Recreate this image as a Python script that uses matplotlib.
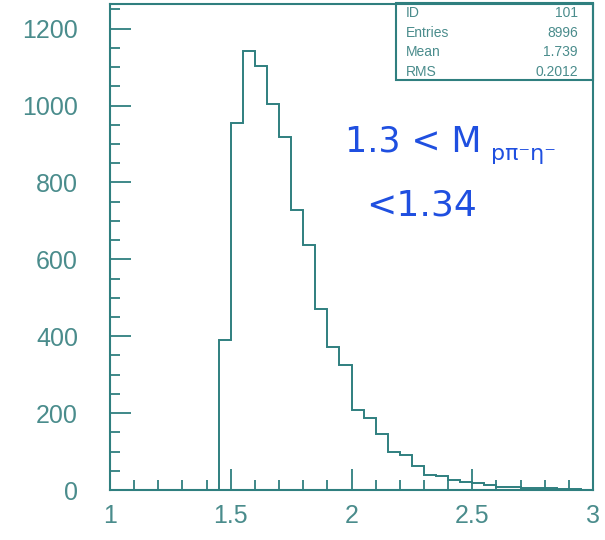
import matplotlib
matplotlib.use("Agg")
import matplotlib.pyplot as plt
import numpy as np
from matplotlib.patches import Rectangle
from matplotlib.ticker import MultipleLocator

# %% histogram contents (bins of 0.05 from 1.45 to 3.00)
bin_low = 1.45
bin_width = 0.05
counts = [389, 954, 1141, 1104, 1003, 919, 729, 637, 471, 372, 324,
          208, 188, 145, 100, 91, 63, 39, 37, 26, 22, 18, 14, 7, 8,
          5, 5, 4, 3, 2, 1]
edges = bin_low + bin_width * np.arange(len(counts) + 1)

# statistics box
stat_names = ["ID", "Entries", "Mean", "RMS"]
stat_values = ["101", "8996", "1.739", "0.2012"]

x_ticks = [1, 1.5, 2, 2.5, 3]
x_tick_labels = ["1", "1.5", "2", "2.5", "3"]
y_ticks = [0, 200, 400, 600, 800, 1000, 1200]

line_col = "#2f7f7f"
text_col = "#4a8c8c"
ink = "#1f4fe0"

W, H = 605, 540
fig = plt.figure(figsize=(W / 100, H / 100), dpi=100)
ax = fig.add_axes([110 / W, 50 / H, 483 / W, 486 / H])

ax.stairs(counts, edges, color=line_col, linewidth=1.4)
ax.set_xlim(1, 3)
ax.set_ylim(0, 1264)

for s in ax.spines.values():
    s.set_color(line_col)
    s.set_linewidth(1.5)

ax.set_xticks(x_ticks)
ax.set_xticklabels(x_tick_labels)
ax.set_yticks(y_ticks)
ax.xaxis.set_minor_locator(MultipleLocator(0.1))
ax.yaxis.set_minor_locator(MultipleLocator(50))
ax.tick_params(which="both", direction="in", color=line_col, width=1.3,
               top=False, right=False)
ax.tick_params(which="major", length=15)
ax.tick_params(which="minor", length=7.5)
ax.tick_params(axis="y", which="major", pad=23)
ax.tick_params(axis="x", which="major", pad=10)
for lab in ax.get_xticklabels() + ax.get_yticklabels():
    lab.set_fontfamily("Liberation Sans")
    lab.set_fontsize(18)
    lab.set_color(text_col)

# stats box in the top right corner
box = Rectangle((396, H - 80), 197, 77, transform=None, fill=False,
                edgecolor=line_col, linewidth=1.5)
fig.patches.append(box)
rows_y = [13, 33, 52.5, 72]
for name, val, py in zip(stat_names, stat_values, rows_y):
    fig.text(406 / W, 1 - py / H, name, ha="left", va="center",
             fontsize=10, color=text_col, family="Liberation Sans")
    fig.text(578 / W, 1 - py / H, val, ha="right", va="center",
             fontsize=10, color=text_col, family="Liberation Sans")

# handwritten note
fig.text(345 / W, 1 - 151 / H, "1.3 < M", ha="left", va="baseline",
         fontsize=25, color=ink, family="DejaVu Sans")
fig.text(491 / W, 1 - 160 / H, "pπ⁻η⁻", ha="left", va="baseline",
         fontsize=16, color=ink, family="DejaVu Sans")
fig.text(366 / W, 1 - 215 / H, "<1.34", ha="left", va="baseline",
         fontsize=26, color=ink, family="DejaVu Sans")

fig.savefig("out.png", dpi=100)
